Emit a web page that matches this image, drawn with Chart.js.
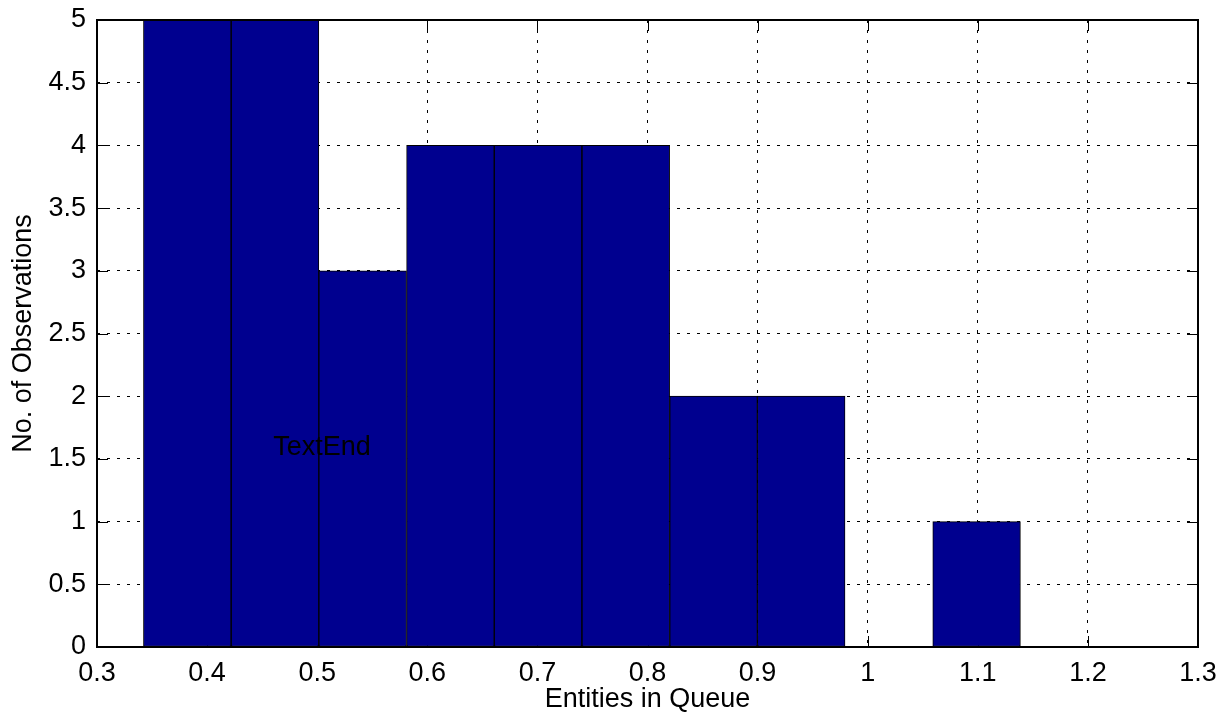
<!DOCTYPE html>
<html>
<head>
<meta charset="utf-8">
<title>Entities in Queue</title>
<script src="https://cdn.jsdelivr.net/npm/chart.js@4/dist/chart.umd.min.js"></script>
<style>
  html, body { margin: 0; padding: 0; background: #fff; }
  canvas { display: block; }
</style>
</head>
<body>
<canvas id="myChart" width="1224" height="716"></canvas>
<script>
// histogram bins (centres) and number of observations in each
const binCenters = [0.382, 0.4617, 0.5413, 0.621, 0.7006, 0.7803, 0.86, 0.9396, 1.0193, 1.0989];
const counts = [5, 5, 3, 4, 4, 4, 2, 2, 0, 1];

const xTicks = [0.3, 0.4, 0.5, 0.6, 0.7, 0.8, 0.9, 1, 1.1, 1.2, 1.3];
const yTicks = [0, 0.5, 1, 1.5, 2, 2.5, 3, 3.5, 4, 4.5, 5];

// free text label placed in data coordinates
const note = { text: 'TextEnd', x: 0.46, y: 1.59 };

const FONT = '"Liberation Sans", Arial, sans-serif';
const SIZE = 27;

// box round the axes, inward tick marks and the text label
const axesFrame = {
    id: 'axesFrame',
    beforeDatasetsDraw(chart) {
        const { ctx, chartArea: a, scales: { x, y } } = chart;
        const len = 11;
        ctx.save();
        ctx.strokeStyle = '#000';
        ctx.lineWidth = 1;
        ctx.beginPath();
        xTicks.forEach(v => {
            const px = Math.round(x.getPixelForValue(v)) + 0.5;
            ctx.moveTo(px, a.bottom); ctx.lineTo(px, a.bottom - len);
            ctx.moveTo(px, a.top); ctx.lineTo(px, a.top + len);
        });
        yTicks.forEach(v => {
            const py = Math.round(y.getPixelForValue(v)) + 0.5;
            ctx.moveTo(a.left, py); ctx.lineTo(a.left + len, py);
            ctx.moveTo(a.right, py); ctx.lineTo(a.right - len, py);
        });
        ctx.stroke();
        ctx.restore();
    },
    afterDatasetsDraw(chart) {
        const { ctx, chartArea: a, scales: { x, y } } = chart;
        ctx.save();
        ctx.strokeStyle = '#000';
        ctx.lineWidth = 2;
        ctx.strokeRect(a.left, a.top, a.right - a.left, a.bottom - a.top);

        ctx.fillStyle = '#000';
        ctx.font = SIZE + 'px ' + FONT;
        ctx.textAlign = 'left';
        ctx.textBaseline = 'middle';
        ctx.fillText(note.text, x.getPixelForValue(note.x), y.getPixelForValue(note.y));
        ctx.restore();
    }
};

Chart.defaults.font.family = FONT;
Chart.defaults.font.size = SIZE;
Chart.defaults.color = '#000';

const ctx = document.getElementById('myChart').getContext('2d');
const myChart = new Chart(ctx, {
    type: 'bar',
    data: {
        datasets: [{
            data: binCenters.map((c, i) => ({ x: c, y: counts[i] })),
            backgroundColor: '#00008f',
            borderColor: '#000',
            borderWidth: 1,
            borderSkipped: false,
            barPercentage: 1.0,
            categoryPercentage: 1.0
        }]
    },
    options: {
        responsive: false,
        animation: false,
        layout: { padding: { top: 20, right: 26, left: 0, bottom: 0 } },
        plugins: {
            legend: { display: false },
            tooltip: { enabled: false }
        },
        scales: {
            x: {
                type: 'linear',
                min: 0.3,
                max: 1.3,
                offset: false,
                afterFit: s => { s.height = 69; s.paddingLeft = 0; s.paddingRight = 0; },
                afterBuildTicks: s => { s.ticks = xTicks.map(v => ({ value: v })); },
                grid: { color: '#000', lineWidth: 1, drawTicks: false, offset: false, borderDash: [3, 7] },
                border: { display: false, dash: [3, 7] },
                ticks: {
                    padding: 10,
                    maxRotation: 0,
                    autoSkip: false,
                    callback: v => String(+v.toFixed(1))
                },
                title: {
                    display: true,
                    text: 'Entities in Queue',
                    padding: { top: 0, bottom: 0 }
                }
            },
            y: {
                min: 0,
                max: 5,
                afterFit: s => { s.width = 97; s.paddingTop = 0; s.paddingBottom = 0; },
                afterBuildTicks: s => { s.ticks = yTicks.map(v => ({ value: v })); },
                grid: { color: '#000', lineWidth: 1, drawTicks: false, borderDash: [3, 7] },
                border: { display: false, dash: [3, 7] },
                ticks: {
                    padding: 11,
                    autoSkip: false,
                    callback: v => String(+v.toFixed(1))
                },
                title: {
                    display: true,
                    text: 'No. of Observations',
                    padding: { top: 7, bottom: 0 }
                }
            }
        }
    },
    plugins: [axesFrame]
});
</script>
</body>
</html>
